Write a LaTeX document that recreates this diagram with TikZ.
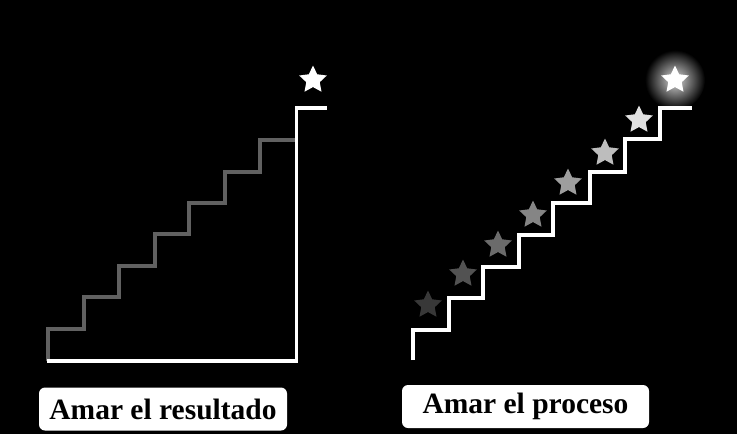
\documentclass[tikz,border=0pt]{standalone}
\usepackage{fontspec}
\setmainfont{Liberation Serif}
\usetikzlibrary{shapes.geometric}
\begin{document}
\begin{tikzpicture}[x=1pt,y=-1pt,
  stair/.style={line width=3.3pt, line join=miter, line cap=butt},
  starnode/.style={star, star points=5, star point ratio=2.05, minimum size=29pt, inner sep=0pt, draw=none},
  label/.style={fill=white, rounded corners=6pt, text=black, font=\fontsize{29.5}{32}\selectfont\bfseries, inner sep=0pt, minimum height=43pt}]
\useasboundingbox (0,0) rectangle (737,434);
\fill[black] (0,0) rectangle (737,434);
% glow behind the top star
\shade[inner color=white!85!black, outer color=black] (675,80) circle (30);
% left staircase
\draw[stair, draw=white!38!black] (48,361) -- (48,329) -- (84,329) -- (84,297) -- (119,297) -- (119,266) -- (155,266) -- (155,234) -- (189,234) -- (189,203) -- (225,203) -- (225,172) -- (260,172) -- (260,140) -- (296,140);
\draw[stair, draw=white] (47,361) -- (296.5,361) -- (296.5,108) -- (327,108);
\node[starnode, fill=white] (sL) at (313,80) {};
% right staircase
\draw[stair, draw=white] (413,360) -- (413,330) -- (449,330) -- (449,298) -- (483,298) -- (483,267) -- (519,267) -- (519,235) -- (553,235) -- (553,203) -- (590,203) -- (590,172) -- (625,172) -- (625,139) -- (660,139) -- (660,108) -- (692,108);
\node[starnode, fill=white!22!black] (s1) at (428,305) {};
\node[starnode, fill=white!32!black] (s2) at (463,274) {};
\node[starnode, fill=white!42!black] (s3) at (498,245) {};
\node[starnode, fill=white!52!black] (s4) at (533,215) {};
\node[starnode, fill=white!62!black] (s5) at (568,183) {};
\node[starnode, fill=white!74!black] (s6) at (605,153) {};
\node[starnode, fill=white!88!black] (s7) at (639,120) {};
\node[starnode, fill=white] (s8) at (675,80) {};
% labels
\node[label, minimum width=248pt] (tL) at (163,409) {Amar el resultado};
\node[label, minimum width=247pt] (tR) at (525.5,406.5) {Amar el proceso};
\end{tikzpicture}
\end{document}
